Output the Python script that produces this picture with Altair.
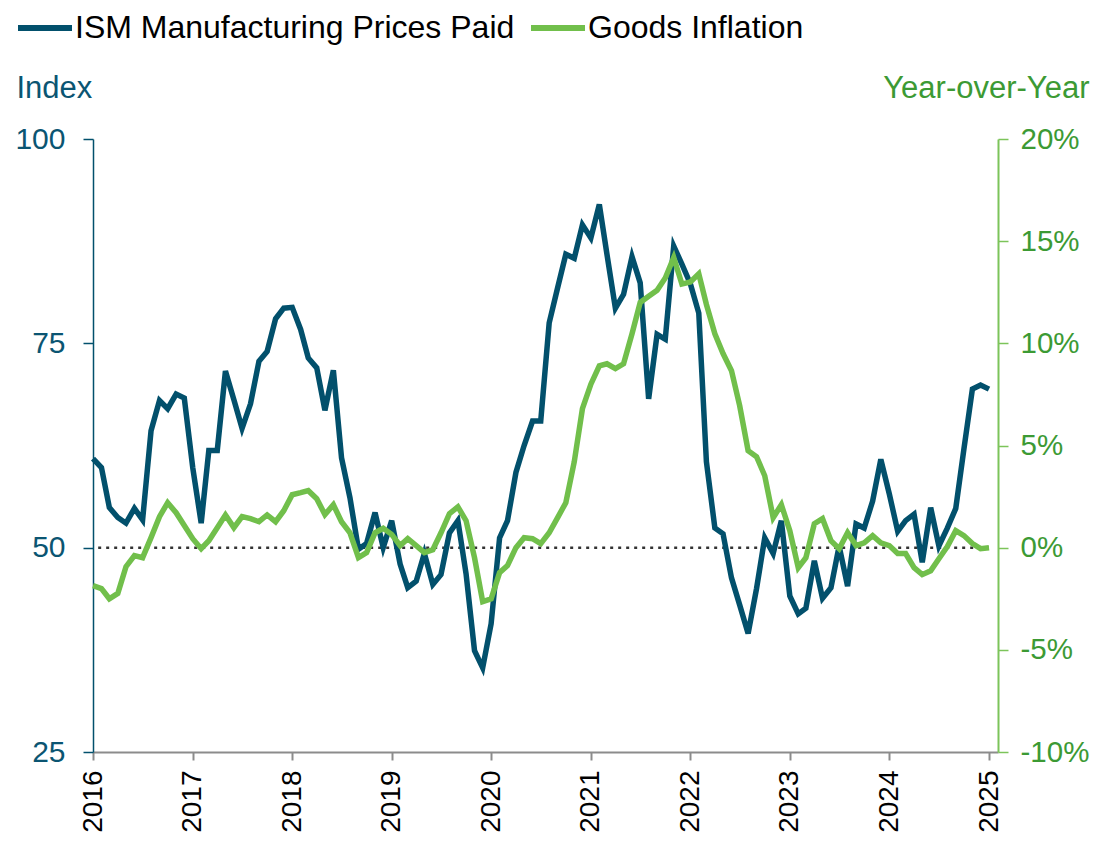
import altair as alt
import pandas as pd

# Monthly observations, Jan 2016 .. Jan 2025
months = [f"{2016 + k // 12}-{k % 12 + 1:02d}-01T00:00:00" for k in range(109)]

ism_prices_paid = [
    60.9, 59.8, 54.9, 53.7, 53.0, 54.8, 53.4, 64.3, 68.0, 67.0, 68.8, 68.3,
    59.8, 53.0, 61.9, 61.9, 71.6, 68.1, 64.6, 67.6, 72.8, 74.0, 78.0, 79.3,
    79.4, 76.7, 73.2, 72.0, 66.8, 71.7, 61.0, 56.1, 49.8, 50.5, 54.3, 50.0,
    53.3, 48.0, 45.1, 45.9, 49.3, 45.5, 46.7, 51.8, 53.3, 46.8, 37.4, 35.3,
    40.7, 51.2, 53.3, 59.2, 62.5, 65.5, 65.5, 77.5, 81.8, 85.9, 85.4, 89.5,
    87.9, 92.0, 85.9, 79.3, 81.0, 85.6, 82.4, 68.2, 76.1, 75.5, 86.9, 84.7,
    82.3, 78.7, 60.5, 52.4, 51.7, 46.3, 43.0, 39.5, 45.0, 51.2, 49.3, 53.3,
    44.1, 41.9, 42.6, 48.4, 43.8, 45.1, 50.2, 45.3, 52.9, 52.4, 55.7, 60.8,
    56.6, 52.0, 53.3, 54.1, 48.2, 54.9, 50.2, 52.4, 54.8, 62.1, 69.4, 69.9,
    69.4,
]

goods_inflation = [
    -1.86, -2.0, -2.5, -2.24, -0.93, -0.39, -0.49, 0.49, 1.52, 2.2, 1.71, 1.08,
    0.44, -0.05, 0.34, 0.98, 1.6, 0.98, 1.52, 1.42, 1.27, 1.6, 1.27, 1.81,
    2.59, 2.69, 2.79, 2.4, 1.62, 2.1, 1.27, 0.73, -0.49, -0.24, 0.73, 0.95,
    0.65, 0.1, 0.44, 0.1, -0.24, -0.1, 0.73, 1.66, 2.0, 1.32, -0.49, -2.64,
    -2.5, -1.22, -0.88, 0.0, 0.49, 0.44, 0.2, 0.73, 1.47, 2.2, 4.2, 6.8,
    8.0, 8.9, 9.0, 8.76, 9.0, 10.47, 12.0, 12.3, 12.6, 13.2, 14.2, 12.9,
    13.0, 13.4, 11.9, 10.47, 9.5, 8.66, 6.95, 4.75, 4.45, 3.52, 1.47, 2.1,
    0.83, -0.98, -0.49, 1.17, 1.42, 0.34, -0.05, 0.73, 0.1, 0.24, 0.59, 0.24,
    0.1, -0.29, -0.29, -0.98, -1.32, -1.13, -0.54, 0.05, 0.83, 0.59, 0.2, -0.05,
    0.0,
]

year_ticks = list(range(2016, 2026))
left_ticks = [25, 50, 75, 100]
right_ticks = [-10, -5, 0, 5, 10, 15, 20]

SER_ISM = "ISM Manufacturing Prices Paid"
SER_GOODS = "Goods Inflation"

df_ism = pd.DataFrame({"date": months, "value": ism_prices_paid, "series": SER_ISM})
df_goods = pd.DataFrame({"date": months, "value": goods_inflation, "series": SER_GOODS})
df_zero = pd.DataFrame({"date": ["2016-01-20T00:00:00"], "end": ["2025-01-01T00:00:00"], "value": [50]})

TEAL = "#02506C"
TEAL_TXT = "#0B5572"
GREEN = "#71BF4B"
GREEN_AXIS = "#7CC45A"
GREEN_TXT = "#3C9A34"
GRAY = "#8C8C8C"

x_enc = alt.X(
    "date:T",
    scale=alt.Scale(domain=[alt.DateTime(year=2016, month=1, date=1),
                            alt.DateTime(year=2025, month=2, date=3)]),
    axis=alt.Axis(
        values=[alt.DateTime(year=y, month=1, date=1) for y in year_ticks],
        format="%Y", labelAngle=270, labelAlign="right", labelBaseline="middle",
        labelFontSize=28, labelColor="black", labelPadding=10,
        tickSize=8, tickColor=GRAY, tickWidth=2, domainColor=GRAY, domainWidth=2,
        grid=False, title=None, labelOverlap=False,
    ),
)

y_left = alt.Y(
    "value:Q",
    scale=alt.Scale(domain=[25, 100], nice=False, zero=False),
    axis=alt.Axis(
        orient="left", values=left_ticks, title="Index", titleAngle=0,
        titleAlign="left", titleBaseline="alphabetic", titleX=-77, titleY=-42,
        titleFontSize=31, titleFontWeight="normal", titleColor=TEAL_TXT,
        labelFontSize=30, labelColor=TEAL_TXT, labelPadding=18,
        tickSize=10, tickColor=TEAL, tickWidth=1.5, domainColor=TEAL, domainWidth=1.5,
        grid=False,
    ),
)

y_right = alt.Y(
    "value:Q",
    scale=alt.Scale(domain=[-10, 20], nice=False, zero=False),
    axis=alt.Axis(
        orient="right", values=right_ticks, labelExpr="datum.value + '%'",
        title="Year-over-Year", titleAngle=0, titleAlign="right",
        titleBaseline="alphabetic", titleX=91, titleY=-42,
        titleFontSize=31, titleFontWeight="normal", titleColor=GREEN_TXT,
        labelFontSize=29.5, labelColor=GREEN_TXT, labelPadding=12,
        tickSize=10, tickColor=GREEN_AXIS, tickWidth=1.5,
        domainColor=GREEN_AXIS, domainWidth=2, grid=False,
    ),
)

color_enc = alt.Color(
    "series:N",
    scale=alt.Scale(domain=[SER_ISM, SER_GOODS], range=[TEAL, GREEN]),
    legend=alt.Legend(
        orient="none", legendX=-78, legendY=-141, direction="horizontal",
        title=None, symbolType="stroke", symbolSize=2916, symbolStrokeWidth=6,
        labelFontSize=32, labelColor="black", labelOffset=0, columnPadding=4,
        padding=0, labelLimit=1000,
    ),
)

zero_rule = alt.Chart(df_zero).mark_rule(
    strokeDash=[3, 5], color="#333333", strokeWidth=2.5
).encode(x=x_enc, x2="end:T", y=y_left)

ism_line = alt.Chart(df_ism).mark_line(strokeWidth=5.5).encode(
    x=x_enc, y=y_left, color=color_enc
)

goods_line = alt.Chart(df_goods).mark_line(strokeWidth=5.5).encode(
    x=x_enc, y=y_right, color=color_enc
)

left = alt.layer(zero_rule, ism_line)

chart = (
    alt.layer(left, goods_line)
    .resolve_scale(y="independent")
    .properties(
        width=905, height=613,
        padding={"left": 85, "top": 131, "right": 93, "bottom": 81},
        autosize=alt.AutoSizeParams(type="none"),
    )
    .configure(font="Liberation Sans")
    .configure_view(stroke=None)
)

chart.save("out.html", embed_options={"renderer": "svg", "actions": False})
